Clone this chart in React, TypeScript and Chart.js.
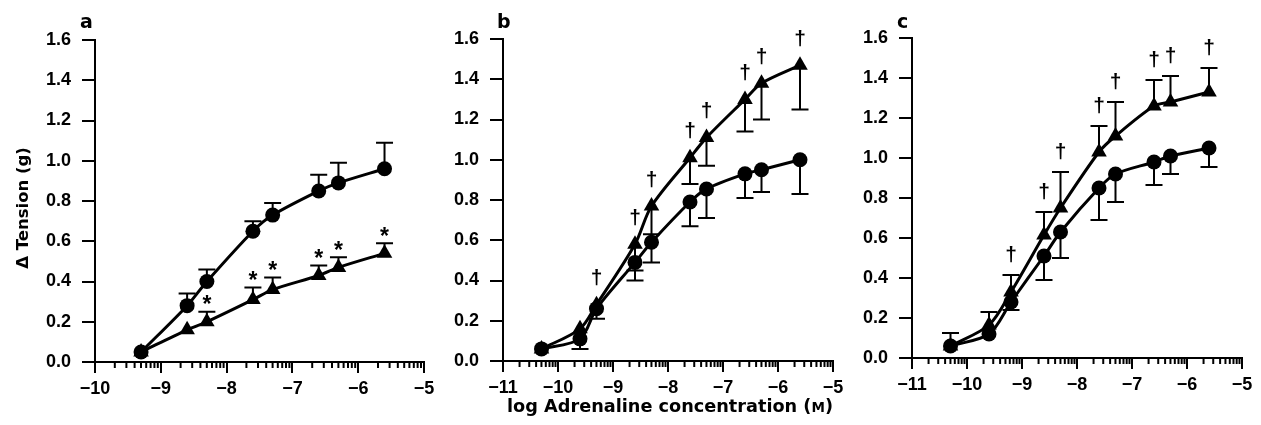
import React, { useEffect, useRef } from 'react';
import { Chart, registerables } from 'chart.js';
Chart.register(...registerables);

const W = 1261;
const H = 425;

// ---- Panel a ----
const aConc = [-9.3, -8.6, -8.3, -7.6, -7.3, -6.6, -6.3, -5.6];
const aCircle = [0.05, 0.28, 0.40, 0.65, 0.73, 0.85, 0.89, 0.96];
const aCircleErr = [0, 0.06, 0.06, 0.05, 0.06, 0.08, 0.10, 0.13];
const aTriangle = [0.05, 0.16, 0.20, 0.31, 0.36, 0.43, 0.47, 0.54];
const aTriangleErr = [0, 0, 0.05, 0.06, 0.06, 0.05, 0.05, 0.05];
const aSig = [false, false, true, true, true, true, true, true];

// ---- Panel b ----
const bConc = [-10.3, -9.6, -9.3, -8.6, -8.3, -7.6, -7.3, -6.6, -6.3, -5.6];
const bCircle = [0.06, 0.11, 0.26, 0.49, 0.59, 0.79, 0.855, 0.93, 0.95, 1.0];
const bCircleErr = [0, 0.05, 0.05, 0.09, 0.10, 0.12, 0.145, 0.12, 0.11, 0.17];
const bTriangle = [0.06, 0.16, 0.28, 0.58, 0.77, 1.01, 1.11, 1.30, 1.38, 1.47];
const bTriangleErr = [0, 0, 0, 0.13, 0.14, 0.13, 0.14, 0.16, 0.18, 0.22];
const bSig = [false, false, true, true, true, true, true, true, true, true];

// ---- Panel c ----
const cConc = [-10.3, -9.6, -9.2, -8.6, -8.3, -7.6, -7.3, -6.6, -6.3, -5.6];
const cCircle = [0.06, 0.12, 0.28, 0.51, 0.63, 0.85, 0.92, 0.98, 1.01, 1.05];
const cCircleErr = [0, 0, 0.04, 0.12, 0.13, 0.16, 0.14, 0.115, 0.09, 0.095];
const cTriangle = [0.06, 0.165, 0.33, 0.615, 0.75, 1.03, 1.11, 1.26, 1.28, 1.33];
const cTriangleErr = [0.065, 0.065, 0.085, 0.115, 0.18, 0.13, 0.17, 0.13, 0.13, 0.12];
const cSig = [false, false, true, true, true, true, true, true, true, true];

const yTicks = [0, 0.2, 0.4, 0.6, 0.8, 1.0, 1.2, 1.4, 1.6];
const minorFactors = [2, 3, 4, 5, 6, 7, 8, 9];

const Y_TITLE = 'Δ Tension (g)';
const X_TITLE_MAIN = 'log Adrenaline concentration (';
const X_TITLE_UNIT = 'M';
const X_TITLE_END = ')';

type PanelCfg = {
  letter: string;
  letterX: number;
  left: number;
  right: number;
  top: number;
  bottom: number;
  xMin: number;
  conc: number[];
  circle: number[];
  circleErr: number[];
  circleDir: number;
  tri: number[];
  triErr: number[];
  triDir: number;
  sig: boolean[];
  sigSymbol: string;
  sigGap: number;
  yTitle: boolean;
  xTitle: boolean;
};

const panels: PanelCfg[] = [
  {
    letter: 'a', letterX: 80, left: 95, right: 424, top: 40, bottom: 362, xMin: -10,
    conc: aConc, circle: aCircle, circleErr: aCircleErr, circleDir: 1,
    tri: aTriangle, triErr: aTriangleErr, triDir: 1, sig: aSig, sigSymbol: '*', sigGap: 12,
    yTitle: true, xTitle: false,
  },
  {
    letter: 'b', letterX: 497, left: 503, right: 833, top: 39, bottom: 361, xMin: -11,
    conc: bConc, circle: bCircle, circleErr: bCircleErr, circleDir: -1,
    tri: bTriangle, triErr: bTriangleErr, triDir: -1, sig: bSig, sigSymbol: '†', sigGap: 18,
    yTitle: false, xTitle: true,
  },
  {
    letter: 'c', letterX: 897, left: 912, right: 1242, top: 38, bottom: 358, xMin: -11,
    conc: cConc, circle: cCircle, circleErr: cCircleErr, circleDir: -1,
    tri: cTriangle, triErr: cTriangleErr, triDir: 1, sig: cSig, sigSymbol: '†', sigGap: 21,
    yTitle: false, xTitle: false,
  },
];

const Y_AXIS_W = 60;
const X_AXIS_H = 45;
const TRI_R = 9;

function PanelChart({ p }: { p: PanelCfg }) {
  const ref = useRef<HTMLCanvasElement>(null);
  useEffect(() => {
    const canvas = ref.current;
    if (!canvas) return;

    const decor = {
      id: 'decor',
      beforeDatasetsDraw(chart: any) {
        const { ctx } = chart;
        const x = chart.scales.x;
        const y = chart.scales.y;
        ctx.save();
        ctx.strokeStyle = '#000';
        ctx.lineWidth = 2;
        const bars = (vals: number[], errs: number[], dir: number) => {
          vals.forEach((v, i) => {
            const e = errs[i];
            if (!e) return;
            const px = x.getPixelForValue(p.conc[i]);
            const p0 = y.getPixelForValue(v);
            const p1 = y.getPixelForValue(v + dir * e);
            ctx.beginPath();
            ctx.moveTo(px, p0);
            ctx.lineTo(px, p1);
            ctx.moveTo(px - 8.5, p1);
            ctx.lineTo(px + 8.5, p1);
            ctx.stroke();
          });
        };
        bars(p.circle, p.circleErr, p.circleDir);
        bars(p.tri, p.triErr, p.triDir);
        ctx.restore();
      },
      afterDraw(chart: any) {
        const { ctx } = chart;
        const x = chart.scales.x;
        const y = chart.scales.y;
        const axisY = chart.chartArea.bottom;
        ctx.save();
        // minor log ticks
        ctx.strokeStyle = '#000';
        ctx.lineWidth = 2;
        for (let d = p.xMin; d < -5; d++) {
          minorFactors.forEach((k) => {
            const px = x.getPixelForValue(d + Math.log10(k));
            ctx.beginPath();
            ctx.moveTo(px, axisY);
            ctx.lineTo(px, axisY + 6);
            ctx.stroke();
          });
        }
        // significance symbols
        ctx.fillStyle = '#000';
        ctx.textAlign = 'center';
        ctx.textBaseline = 'alphabetic';
        ctx.font = p.sigSymbol === '*' ? 'bold 23px "Liberation Sans"' : 'bold 21px "Liberation Sans"';
        const m = ctx.measureText(p.sigSymbol);
        const inkMid = (m.actualBoundingBoxAscent - m.actualBoundingBoxDescent) / 2;
        p.sig.forEach((s, i) => {
          if (!s) return;
          const px = x.getPixelForValue(p.conc[i]);
          let topPx = y.getPixelForValue(p.tri[i]) - TRI_R;
          if (p.triDir > 0 && p.triErr[i]) {
            topPx = Math.min(topPx, y.getPixelForValue(p.tri[i] + p.triErr[i]));
          }
          const center = topPx - p.sigGap;
          ctx.fillText(p.sigSymbol, px, center + inkMid);
        });
        // panel letter
        ctx.textAlign = 'left';
        ctx.font = 'bold 19px "DejaVu Sans"';
        ctx.fillText(p.letter, p.letterX, 28);
        // y title
        if (p.yTitle) {
          ctx.save();
          ctx.translate(27.5, 208);
          ctx.rotate(-Math.PI / 2);
          ctx.textAlign = 'center';
          ctx.font = 'bold 16.5px "DejaVu Sans"';
          ctx.fillText(Y_TITLE, 0, 0);
          ctx.restore();
        }
        // x title
        if (p.xTitle) {
          const mainFont = 'bold 17.7px "DejaVu Sans"';
          const smallFont = 'bold 13.5px "DejaVu Sans"';
          ctx.font = mainFont;
          const w1 = ctx.measureText(X_TITLE_MAIN).width;
          const w3 = ctx.measureText(X_TITLE_END).width;
          ctx.font = smallFont;
          const w2 = ctx.measureText(X_TITLE_UNIT).width;
          const total = w1 + w2 + w3;
          let sx = 670 - total / 2;
          const base = 412;
          ctx.textAlign = 'left';
          ctx.font = mainFont;
          ctx.fillText(X_TITLE_MAIN, sx, base);
          sx += w1;
          ctx.font = smallFont;
          ctx.fillText(X_TITLE_UNIT, sx, base);
          sx += w2;
          ctx.font = mainFont;
          ctx.fillText(X_TITLE_END, sx, base);
        }
        ctx.restore();
      },
    };

    const tickFont = { family: '"Liberation Sans", Arial, sans-serif', weight: 'bold' as const, size: 18 };

    const chart = new Chart(canvas, {
      type: 'line',
      data: {
        datasets: [
          {
            data: p.conc.map((c, i) => ({ x: c, y: p.circle[i] })),
            borderColor: '#000',
            borderWidth: 3,
            pointStyle: 'circle',
            pointRadius: 7.5,
            pointBackgroundColor: '#000',
            pointBorderColor: '#000',
            pointBorderWidth: 0,
            tension: 0.3,
            fill: false,
            clip: false as any,
          },
          {
            data: p.conc.map((c, i) => ({ x: c, y: p.tri[i] })),
            borderColor: '#000',
            borderWidth: 3,
            pointStyle: 'triangle',
            pointRadius: TRI_R,
            pointBackgroundColor: '#000',
            pointBorderColor: '#000',
            pointBorderWidth: 0,
            tension: 0.3,
            fill: false,
            clip: false as any,
          },
        ],
      },
      options: {
        animation: false,
        responsive: false,
        devicePixelRatio: 1,
        events: [],
        layout: {
          padding: {
            left: p.left - Y_AXIS_W,
            right: W - p.right,
            top: p.top,
            bottom: H - p.bottom - X_AXIS_H,
          },
        },
        plugins: {
          legend: { display: false },
          tooltip: { enabled: false },
        },
        scales: {
          x: {
            type: 'linear',
            min: p.xMin,
            max: -5,
            afterFit: (s: any) => { s.height = X_AXIS_H; },
            border: { display: true, color: '#000', width: 2 },
            grid: {
              display: true,
              drawOnChartArea: false,
              drawTicks: true,
              tickLength: 11,
              tickWidth: 2,
              tickColor: '#000',
              color: '#000',
              lineWidth: 2,
            },
            ticks: {
              stepSize: 1,
              color: '#000',
              font: tickFont,
              padding: 5,
              maxRotation: 0,
              autoSkip: false,
              callback: (v: any) => '\u2212' + Math.abs(Number(v)),
            },
          },
          y: {
            type: 'linear',
            min: 0,
            max: 1.6,
            afterFit: (s: any) => { s.width = Y_AXIS_W; },
            afterBuildTicks: (s: any) => { s.ticks = yTicks.map((v) => ({ value: v })); },
            border: { display: true, color: '#000', width: 2 },
            grid: {
              display: true,
              drawOnChartArea: false,
              drawTicks: true,
              tickLength: 13,
              tickWidth: 2,
              tickColor: '#000',
              color: '#000',
              lineWidth: 2,
            },
            ticks: {
              color: '#000',
              font: tickFont,
              padding: 11,
              callback: (v: any) => Number(v).toFixed(1),
            },
          },
        },
      },
      plugins: [decor],
    } as any);

    return () => chart.destroy();
  }, [p]);

  return (
    <canvas
      ref={ref}
      width={W}
      height={H}
      style={{ position: 'absolute', left: 0, top: 0, width: W, height: H }}
    />
  );
}

export default function App() {
  return (
    <div style={{ position: 'absolute', left: 0, top: 0, width: W, height: H, background: '#fff' }}>
      {panels.map((p) => (
        <PanelChart key={p.letter} p={p} />
      ))}
    </div>
  );
}
